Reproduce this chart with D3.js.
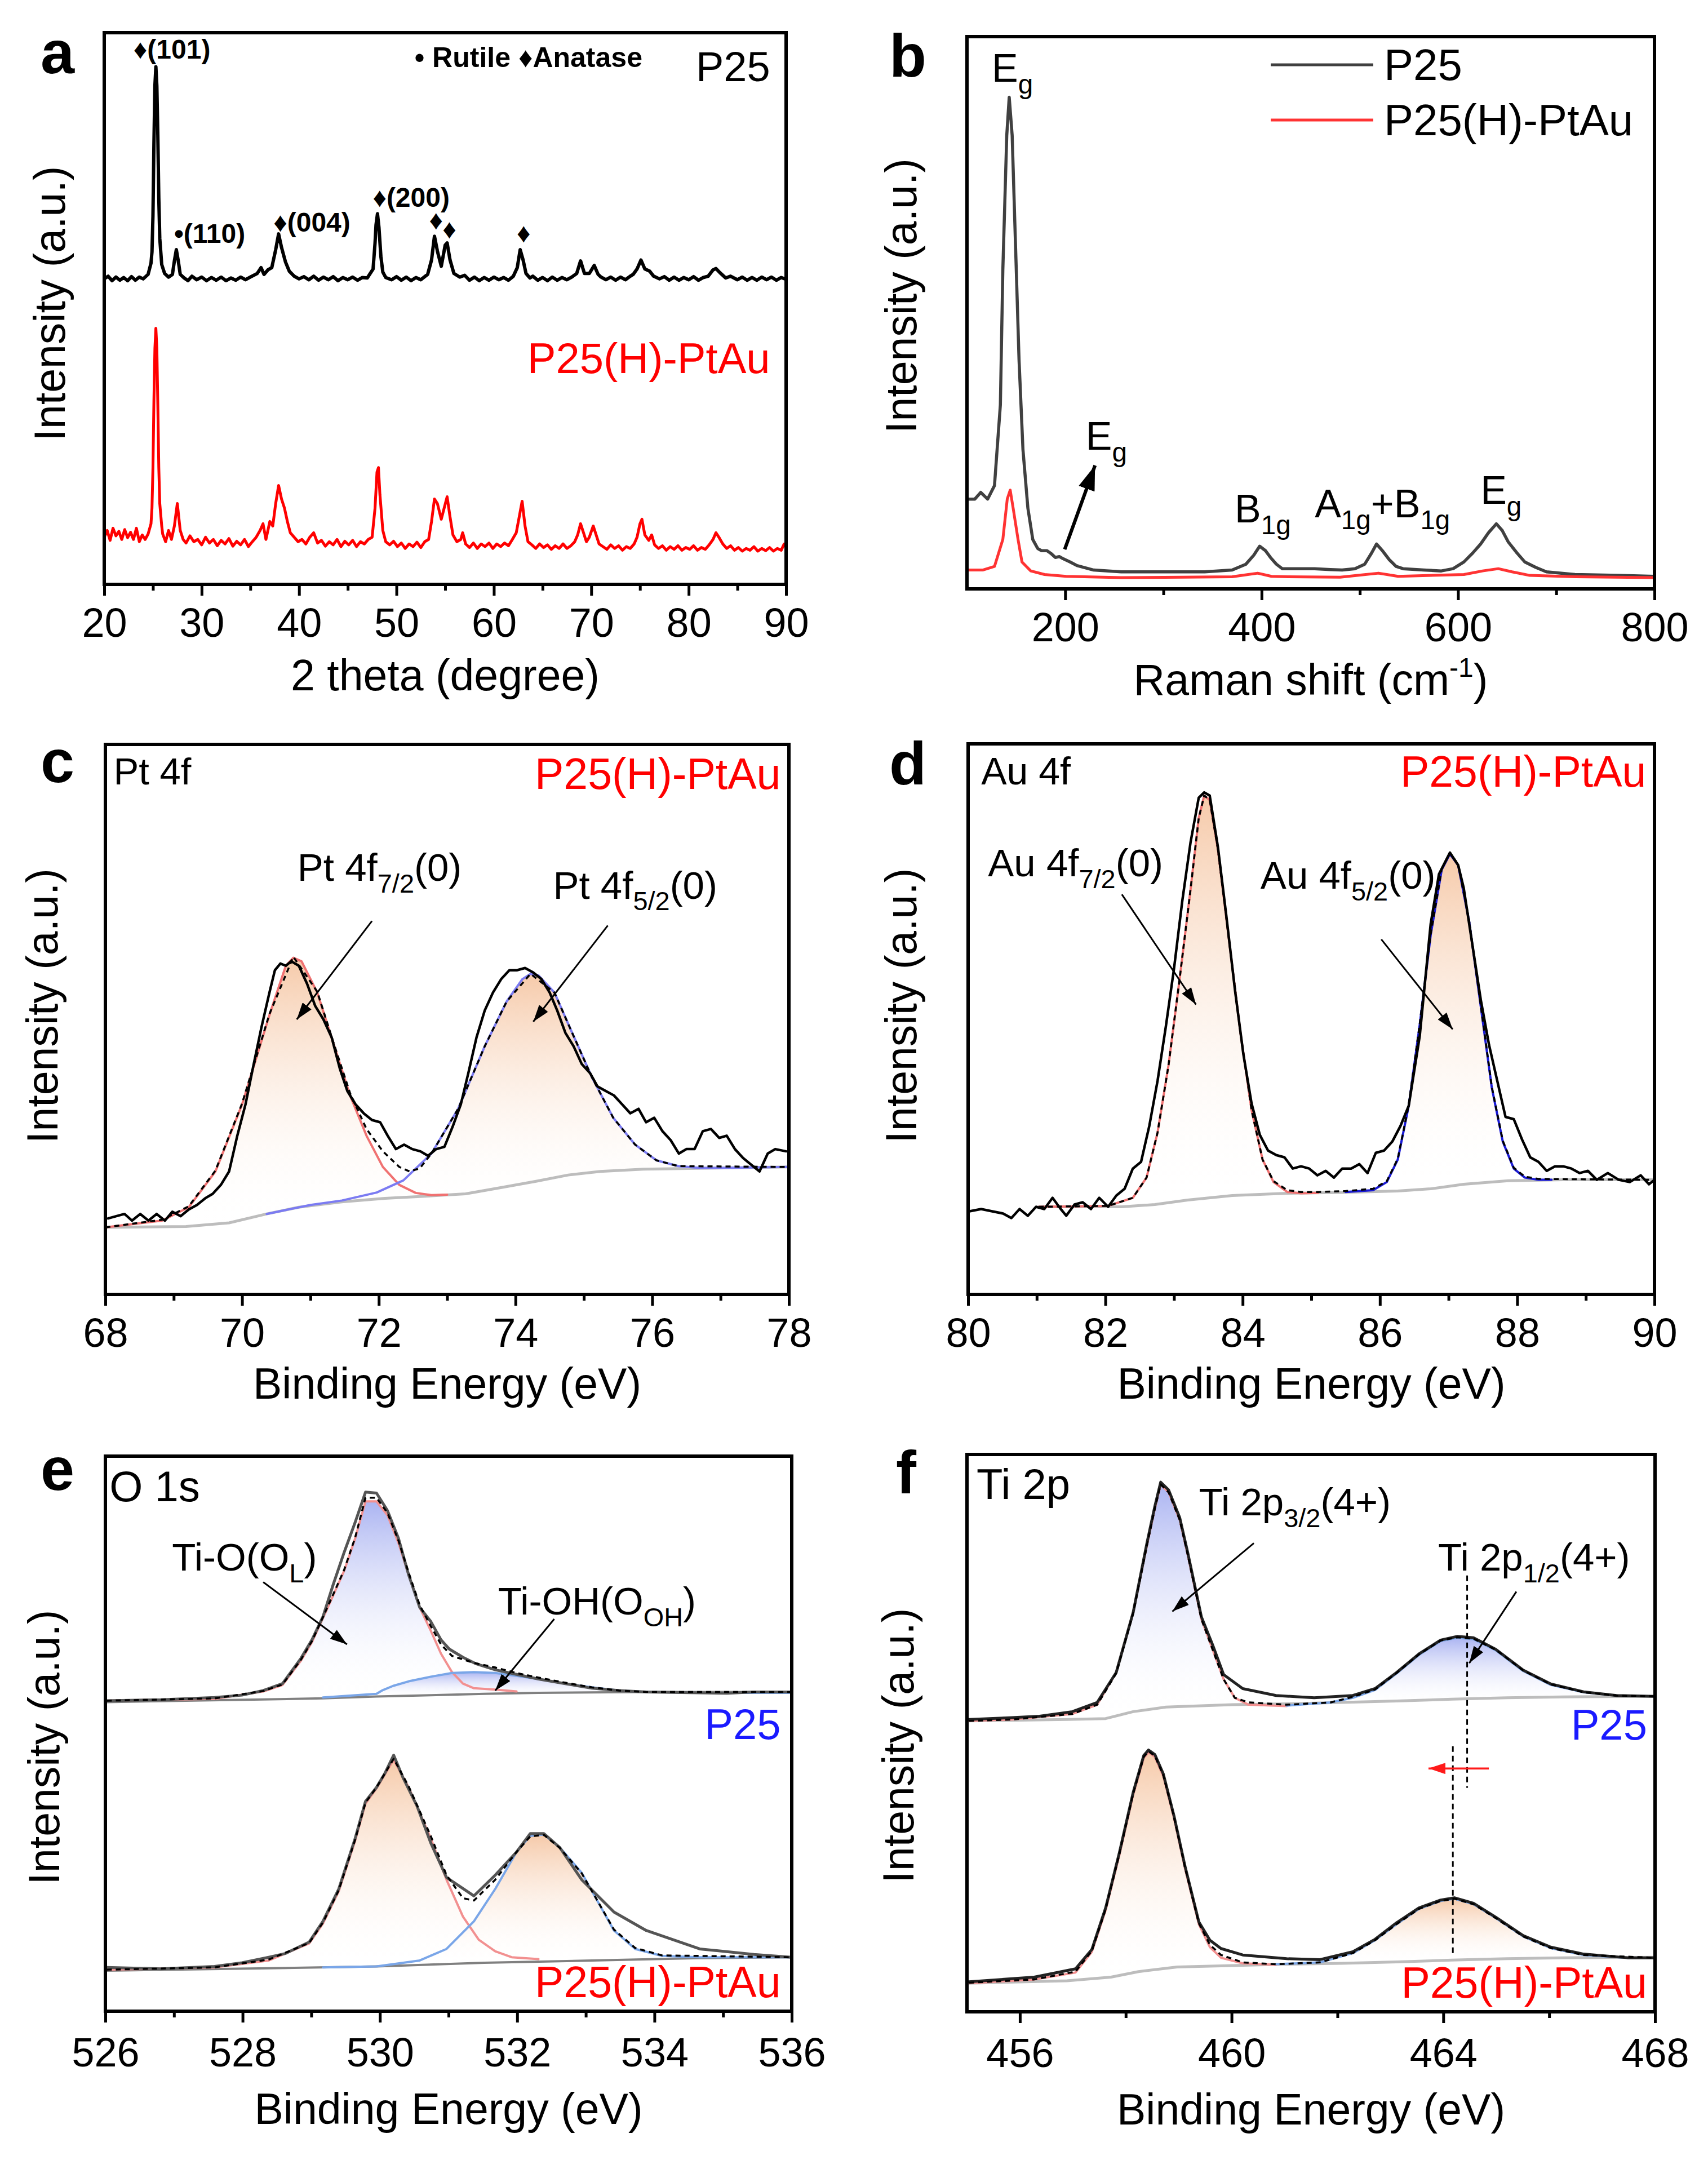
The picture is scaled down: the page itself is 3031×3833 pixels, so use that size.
<!DOCTYPE html>
<html>
<head>
<meta charset="utf-8">
<script src="https://cdn.jsdelivr.net/npm/d3@7"></script>
<style>
  body { margin:0; background:#fff; }
</style>
</head>
<body>
<script>
var FONT = "'Liberation Sans', Arial, Helvetica, sans-serif";

// ---------- data (intensities in arbitrary units) ----------

// a: XRD, [2theta, intensity]
var xrdP25 = [[20.0,680],[20.4,686],[20.8,676],[21.2,684],[21.6,677],[22.0,683],[22.4,676],[22.8,685],[23.2,677],[23.6,684],[24.0,680],[24.5,690],[24.8,715],[24.9,740],[25.0,820],[25.1,980],[25.2,1110],[25.3,1152],[25.4,1110],[25.5,1000],[25.6,860],[25.7,770],[25.9,712],[26.2,692],[26.6,684],[27.0,690],[27.2,720],[27.4,745],[27.6,720],[27.8,690],[28.2,682],[28.6,676],[29.0,686],[29.5,678],[30.0,684],[30.5,676],[31.0,683],[31.5,677],[32.0,684],[32.5,676],[33.0,682],[33.5,677],[34.0,684],[34.5,678],[35.0,684],[35.7,692],[36.1,705],[36.4,690],[36.8,700],[37.2,705],[37.6,745],[37.9,780],[38.2,750],[38.6,718],[39.0,697],[39.5,686],[40.0,680],[40.5,685],[41.0,678],[41.5,686],[42.0,677],[42.5,684],[43.0,678],[43.5,685],[44.0,676],[44.5,683],[45.0,678],[45.5,684],[46.0,677],[46.5,683],[47.0,682],[47.6,702],[47.8,760],[47.9,800],[48.05,825],[48.2,795],[48.4,730],[48.6,695],[48.9,683],[49.5,678],[50.0,685],[50.5,677],[51.0,684],[51.5,676],[52.0,683],[52.5,678],[53.2,690],[53.6,722],[53.9,775],[54.2,742],[54.6,708],[55.0,755],[55.2,760],[55.5,722],[55.9,692],[56.5,684],[57.0,688],[57.5,677],[58.0,684],[58.5,676],[59.0,683],[59.5,677],[60.0,684],[60.5,678],[61.0,683],[61.5,677],[62.0,686],[62.4,705],[62.7,745],[63.0,722],[63.3,692],[63.7,682],[64.0,686],[64.5,677],[65.0,683],[65.5,676],[66.0,684],[66.5,677],[67.0,683],[67.5,678],[68.0,684],[68.5,692],[68.9,720],[69.3,692],[69.8,692],[70.3,710],[70.7,690],[71.0,684],[71.5,678],[72.0,684],[72.5,677],[73.0,684],[73.5,678],[74.0,686],[74.3,690],[74.7,702],[75.1,722],[75.5,702],[76.0,697],[76.4,686],[77.0,680],[77.5,685],[78.0,677],[78.5,684],[79.0,677],[79.5,683],[80.0,678],[80.5,685],[81.0,677],[81.5,683],[82.0,686],[82.5,700],[82.8,703],[83.2,694],[83.8,682],[84.3,686],[85.0,678],[85.5,684],[86.0,677],[86.5,683],[87.0,677],[87.5,684],[88.0,678],[88.5,684],[89.0,677],[89.5,683],[90.0,679]];

var xrdPtAu = [[20.0,105],[20.3,120],[20.6,98],[20.9,125],[21.2,108],[21.5,118],[21.8,100],[22.1,122],[22.4,104],[22.7,116],[23.0,100],[23.3,125],[23.6,95],[23.9,110],[24.2,100],[24.5,112],[24.8,135],[24.9,170],[25.0,260],[25.1,410],[25.2,525],[25.3,570],[25.4,525],[25.5,400],[25.6,260],[25.7,180],[25.9,130],[26.0,112],[26.3,95],[26.6,120],[26.9,100],[27.2,130],[27.5,180],[27.8,120],[28.1,100],[28.4,92],[28.8,108],[29.2,95],[29.6,100],[30.0,88],[30.4,105],[30.8,92],[31.2,100],[31.6,86],[32.0,98],[32.4,90],[32.8,102],[33.2,85],[33.6,96],[34.0,88],[34.4,100],[34.8,84],[35.2,95],[35.6,105],[36.0,120],[36.3,135],[36.6,100],[37.0,140],[37.3,130],[37.6,180],[37.9,220],[38.2,190],[38.5,170],[38.8,140],[39.1,115],[39.5,105],[39.9,95],[40.3,100],[40.7,90],[41.1,105],[41.5,115],[41.9,92],[42.3,98],[42.7,85],[43.1,95],[43.5,88],[43.9,100],[44.3,84],[44.7,96],[45.1,88],[45.5,98],[45.9,84],[46.3,95],[46.7,90],[47.1,100],[47.5,105],[47.8,170],[48.0,250],[48.15,260],[48.3,200],[48.6,120],[48.9,95],[49.3,88],[49.7,96],[50.1,84],[50.5,92],[50.9,80],[51.3,90],[51.7,84],[52.1,94],[52.5,82],[52.9,95],[53.3,100],[53.6,140],[53.9,190],[54.2,180],[54.6,145],[54.9,170],[55.2,195],[55.5,150],[55.8,110],[56.2,95],[56.6,100],[56.8,115],[57.1,90],[57.5,82],[57.9,92],[58.3,80],[58.7,90],[59.1,84],[59.5,92],[59.9,80],[60.3,90],[60.7,84],[61.1,92],[61.5,86],[61.9,100],[62.3,115],[62.6,150],[62.9,185],[63.2,130],[63.5,95],[63.9,88],[64.3,80],[64.7,90],[65.1,82],[65.5,88],[65.9,78],[66.3,86],[66.7,80],[67.1,90],[67.5,80],[67.9,86],[68.3,95],[68.6,110],[68.9,135],[69.2,115],[69.5,95],[69.8,105],[70.2,130],[70.5,110],[70.8,90],[71.2,84],[71.6,78],[72.0,88],[72.4,80],[72.8,86],[73.2,76],[73.6,84],[74.0,80],[74.4,90],[74.7,105],[75.0,135],[75.2,145],[75.5,110],[75.9,98],[76.2,110],[76.5,88],[76.9,80],[77.3,86],[77.7,76],[78.1,84],[78.5,78],[78.9,86],[79.3,76],[79.7,82],[80.1,78],[80.5,86],[80.9,76],[81.3,82],[81.7,78],[82.1,88],[82.5,100],[82.8,115],[83.1,105],[83.5,90],[83.9,80],[84.3,86],[84.7,76],[85.1,82],[85.5,74],[85.9,80],[86.3,76],[86.7,84],[87.1,74],[87.5,80],[87.9,75],[88.3,82],[88.7,74],[89.1,80],[89.5,76],[89.8,90],[90.0,85]];

// b: Raman, [shift, intensity]
var ramanP25 = [[100,200],[108,200],[114,215],[121,200],[128,230],[134,410],[136.5,710],[140.5,1010],[143,1095],[146,1010],[149.5,760],[153,510],[157,310],[162,180],[167,110],[172,90],[176,85],[181.5,85],[186,78],[190,70],[194,72],[198,67],[205,60],[212,52],[229,42],[257,38],[285,38],[313,38],[342,38],[370,42],[384,55],[392,75],[398,95],[404,85],[409,70],[415,55],[421,45],[440,45],[454,45],[470,43],[482,42],[495,45],[505,55],[512,80],[517,100],[523,85],[530,65],[537,50],[544,45],[565,42],[583,40],[595,45],[606,60],[615,80],[623,100],[631,125],[639,145],[645,130],[651,105],[660,80],[668,60],[679,48],[690,38],[719,32],[763,30],[800,28]];
var ramanPtAu = [[100,42],[116,42],[128,50],[136.5,110],[141,200],[144,220],[147,180],[152,110],[156,60],[165,40],[179,32],[201,28],[257,25],[320,26],[370,27],[396,35],[410,28],[427,27],[480,26],[519,35],[539,28],[606,32],[625,40],[641,45],[655,38],[673,30],[720,27],[760,26],[800,25]];

// c: Pt 4f, [binding energy, intensity]
var pt4fRaw = [[68.04,170],[68.16,175],[68.28,180],[68.39,165],[68.51,180],[68.63,165],[68.75,180],[68.87,165],[68.98,185],[69.10,175],[69.22,190],[69.34,200],[69.46,215],[69.57,225],[69.69,245],[69.81,275],[69.93,355],[70.05,425],[70.17,515],[70.28,595],[70.40,675],[70.48,725],[70.56,740],[70.64,735],[70.72,745],[70.83,735],[70.95,695],[71.07,645],[71.19,615],[71.31,575],[71.43,505],[71.54,455],[71.66,425],[71.78,405],[71.90,390],[72.02,385],[72.13,355],[72.25,325],[72.37,335],[72.49,325],[72.61,320],[72.72,310],[72.84,325],[72.96,330],[73.08,375],[73.20,425],[73.31,495],[73.43,575],[73.55,635],[73.67,675],[73.79,705],[73.91,725],[74.02,725],[74.14,730],[74.26,720],[74.38,705],[74.50,675],[74.61,635],[74.73,585],[74.85,555],[74.97,515],[75.09,495],[75.20,465],[75.32,455],[75.44,445],[75.56,425],[75.68,405],[75.80,415],[75.91,385],[76.03,395],[76.15,365],[76.27,345],[76.39,315],[76.50,325],[76.62,325],[76.74,365],[76.86,370],[76.98,350],[77.09,355],[77.21,325],[77.33,305],[77.45,290],[77.57,275],[77.69,315],[77.80,325],[77.96,320]];
var pt4f72 = [[68.0,150],[68.83,165],[69.22,195],[69.61,275],[70.0,425],[70.4,625],[70.64,735],[70.75,753],[70.87,745],[71.1,675],[71.35,555],[71.58,445],[71.82,355],[72.06,285],[72.3,245],[72.54,227],[72.77,222],[73.0,223]];
var pt4f52 = [[70.36,180],[71.0,200],[71.46,210],[71.97,228],[72.36,255],[72.77,315],[73.16,415],[73.55,555],[73.87,655],[74.1,705],[74.22,717],[74.34,713],[74.57,675],[74.8,595],[75.12,485],[75.43,395],[75.75,335],[76.06,300],[76.38,287],[76.69,283],[77.0,283],[78.0,285]];
var pt4fBg = [[68.0,150],[69.18,152],[69.81,160],[70.36,180],[70.83,195],[71.46,207],[72.09,215],[72.72,220],[73.27,225],[73.83,240],[74.3,253],[74.77,267],[75.24,275],[75.87,280],[76.66,282],[78.0,285]];
var pt4fEnv = [[68.0,150],[68.83,167],[69.22,197],[69.61,277],[70.0,427],[70.4,627],[70.75,755],[71.1,677],[71.35,557],[71.58,450],[71.82,370],[72.06,320],[72.3,285],[72.45,275],[72.6,282],[72.77,315],[73.16,415],[73.55,555],[73.87,655],[74.22,717],[74.57,675],[74.8,595],[75.12,485],[75.43,395],[75.75,335],[76.06,300],[76.38,287],[78.0,285]];

// d: Au 4f
var au4fRaw = [[80.02,185],[80.19,190],[80.35,185],[80.51,180],[80.63,170],[80.75,190],[80.87,175],[80.99,195],[81.11,190],[81.23,215],[81.35,190],[81.43,175],[81.55,200],[81.67,205],[81.79,190],[81.91,215],[82.04,195],[82.16,220],[82.28,235],[82.40,280],[82.52,295],[82.64,375],[82.76,475],[82.88,595],[83.00,725],[83.12,875],[83.24,1005],[83.36,1105],[83.44,1117],[83.52,1110],[83.64,995],[83.76,845],[83.89,675],[84.01,535],[84.13,425],[84.25,355],[84.37,320],[84.49,310],[84.61,305],[84.73,280],[84.85,285],[84.97,280],[85.09,265],[85.21,275],[85.33,260],[85.45,280],[85.58,280],[85.70,290],[85.82,270],[85.94,315],[86.06,320],[86.18,340],[86.30,375],[86.42,420],[86.58,575],[86.74,825],[86.86,935],[87.02,983],[87.14,955],[87.22,905],[87.35,775],[87.47,655],[87.59,555],[87.71,475],[87.83,395],[87.95,390],[88.07,345],[88.19,305],[88.31,295],[88.43,275],[88.55,285],[88.67,285],[88.79,280],[88.91,270],[89.03,275],[89.16,255],[89.32,270],[89.48,255],[89.64,250],[89.80,265],[89.92,245],[90.0,255]];
var au4f72 = [[81.03,195],[82.04,197],[82.4,215],[82.6,260],[82.76,360],[82.92,510],[83.08,700],[83.24,900],[83.36,1060],[83.44,1110],[83.52,1100],[83.64,990],[83.8,790],[83.97,580],[84.13,410],[84.29,300],[84.45,250],[84.65,228],[84.85,225],[85.1,226]];
var au4f52 = [[85.5,228],[85.9,232],[86.1,250],[86.26,300],[86.42,420],[86.58,600],[86.74,800],[86.9,945],[87.02,980],[87.14,955],[87.3,830],[87.47,640],[87.63,460],[87.79,340],[87.95,280],[88.11,260],[88.31,255],[88.5,255]];
var au4fBg = [[81.03,195],[82.24,195],[82.72,200],[83.2,210],[83.85,220],[84.65,225],[85.45,227],[86.26,230],[86.74,235],[87.22,245],[87.87,253],[88.67,255],[90.0,255]];
var au4fEnv = [[81.03,195],[82.04,197],[82.4,215],[82.6,260],[82.76,360],[82.92,510],[83.08,700],[83.24,900],[83.36,1060],[83.44,1110],[83.52,1100],[83.64,990],[83.8,790],[83.97,580],[84.13,410],[84.29,300],[84.45,252],[84.65,232],[84.85,228],[85.1,228],[85.5,230],[85.9,235],[86.1,252],[86.26,302],[86.42,422],[86.58,602],[86.74,802],[86.9,947],[87.02,982],[87.14,957],[87.3,832],[87.47,642],[87.63,462],[87.79,342],[87.95,282],[88.11,262],[88.31,257],[90.0,255]];

// e: O 1s (upper P25, lower P25(H)-PtAu)
var o1sP25Raw = [[526.02,673],[526.81,675],[527.59,680],[527.99,685],[528.30,695],[528.58,710],[528.85,765],[529.01,805],[529.17,855],[529.32,925],[529.48,995],[529.64,1060],[529.79,1125],[529.95,1123],[530.11,1085],[530.27,1025],[530.42,945],[530.58,875],[530.74,845],[530.89,805],[531.01,785],[531.21,767],[531.40,753],[531.68,740],[531.99,730],[532.31,720],[532.70,710],[533.09,700],[533.49,695],[533.88,692],[534.66,690],[535.06,689],[535.45,692],[536.0,692]];
var o1sP25OL = [[526.02,673],[527.59,677],[528.30,693],[528.58,707],[528.85,760],[529.01,800],[529.24,875],[529.48,955],[529.64,1025],[529.79,1105],[529.95,1105],[530.11,1075],[530.27,1015],[530.42,945],[530.58,875],[530.74,825],[530.89,775],[531.05,735],[531.21,710],[531.37,700],[531.68,697],[531.99,693]];
var o1sP25OH = [[529.17,680],[529.95,688],[530.03,695],[530.19,705],[530.42,715],[530.74,725],[531.05,733],[531.37,735],[531.68,733],[531.99,727],[532.31,720],[532.70,710],[533.09,702],[533.49,695],[533.88,692],[534.66,690],[536.0,690]];
var o1sP25Bg = [[526.02,670],[529.17,678],[529.95,682],[530.74,685],[531.52,688],[532.31,690],[533.88,692],[536.0,692]];
var o1sP25Env = [[526.02,673],[527.59,678],[528.30,694],[528.58,708],[528.85,762],[529.01,802],[529.24,877],[529.48,957],[529.64,1027],[529.79,1113],[529.95,1113],[530.11,1080],[530.27,1020],[530.42,950],[530.58,880],[530.74,835],[530.89,795],[531.05,770],[531.37,755],[531.68,745],[531.99,733],[532.31,723],[532.70,712],[533.09,702],[533.49,695],[533.88,692],[536.0,692]];
var o1sPtAuRaw = [[526.02,95],[526.81,92],[527.59,97],[527.99,105],[528.38,117],[528.62,125],[528.97,150],[529.17,195],[529.40,265],[529.64,375],[529.79,455],[529.95,485],[530.07,515],[530.20,555],[530.34,505],[530.54,445],[530.74,365],[530.97,290],[531.37,250],[531.68,295],[531.99,345],[532.19,385],[532.39,385],[532.62,355],[532.94,285],[533.41,215],[533.88,175],[534.66,135],[535.45,123],[536.0,117]];
var o1sPtAuOL = [[526.02,90],[527.59,95],[528.38,110],[528.97,147],[529.17,190],[529.40,260],[529.64,370],[529.79,450],[529.95,483],[530.20,545],[530.42,485],[530.74,375],[530.97,285],[531.21,205],[531.44,155],[531.68,130],[531.92,117],[532.31,113]];
var o1sPtAuOH = [[529.17,95],[529.95,97],[530.58,110],[530.97,135],[531.37,195],[531.68,265],[531.99,345],[532.19,380],[532.39,383],[532.62,355],[532.94,300],[533.41,175],[533.72,135],[534.11,120],[534.66,117],[536.0,117]];
var o1sPtAuBg = [[526.02,88],[528.38,93],[529.95,97],[531.52,105],[533.09,110],[534.66,115],[536.0,117]];
var o1sPtAuEnv = [[526.02,90],[527.59,95],[528.38,112],[528.97,148],[529.17,192],[529.40,262],[529.64,372],[529.79,452],[529.95,485],[530.20,547],[530.42,487],[530.74,380],[530.97,295],[531.21,245],[531.37,240],[531.68,285],[531.99,345],[532.19,379],[532.39,382],[532.62,354],[532.94,299],[533.41,177],[533.72,137],[534.11,121],[536.0,117]];

// f: Ti 2p
var ti2pP25Raw = [[455.04,633],[455.85,637],[456.37,640],[456.99,650],[457.46,670],[457.82,735],[458.14,865],[458.40,1015],[458.55,1095],[458.66,1147],[458.81,1130],[459.02,1070],[459.17,995],[459.43,855],[459.64,795],[459.85,730],[460.21,700],[460.84,685],[461.56,680],[462.29,685],[462.71,700],[463.12,735],[463.54,775],[463.95,805],[464.26,813],[464.57,810],[464.99,785],[465.51,740],[466.03,710],[466.65,693],[467.27,685],[468.0,683]];
var ti2pP25p32 = [[455.04,630],[455.85,633],[456.99,645],[457.46,665],[457.82,735],[458.14,865],[458.40,1010],[458.55,1090],[458.66,1142],[458.81,1125],[459.02,1065],[459.17,990],[459.43,850],[459.64,785],[459.85,720],[460.06,680],[460.32,665],[461.04,662]];
var ti2pP25p12 = [[461.04,663],[461.87,670],[462.29,680],[462.71,697],[463.12,733],[463.54,773],[463.95,803],[464.26,810],[464.57,807],[464.99,783],[465.51,738],[466.03,708],[466.65,692],[467.27,685],[468.0,683]];
var ti2pP25Bg = [[455.04,630],[456.89,633],[457.62,635],[458.14,650],[458.76,660],[460.01,665],[461.04,667],[462.08,670],[463.12,673],[464.16,677],[465.20,680],[466.24,682],[468.0,683]];
var ti2pP25Env = [[455.04,630],[455.85,633],[456.99,645],[457.46,665],[457.82,733],[458.14,863],[458.40,1010],[458.55,1090],[458.66,1142],[458.81,1125],[459.02,1065],[459.17,990],[459.43,850],[459.64,785],[459.85,720],[460.06,680],[460.32,670],[461.04,665],[461.87,670],[462.29,682],[462.71,698],[463.12,734],[463.54,774],[463.95,804],[464.26,811],[464.57,808],[464.99,784],[465.51,739],[466.03,709],[466.65,692],[467.27,685],[468.0,683]];
var ti2pPtAuRaw = [[455.04,65],[456.27,75],[457.05,93],[457.36,135],[457.62,225],[457.88,345],[458.14,475],[458.34,555],[458.43,567],[458.55,557],[458.71,515],[458.91,425],[459.12,315],[459.38,195],[459.59,155],[459.80,137],[460.21,123],[461.04,115],[461.67,113],[462.29,130],[462.71,157],[463.12,193],[463.54,225],[463.95,242],[464.21,247],[464.57,235],[464.99,205],[465.51,165],[466.03,140],[466.65,125],[467.48,117],[468.0,117]];
var ti2pPtAup32 = [[455.04,62],[456.27,70],[457.05,85],[457.36,130],[457.62,220],[457.88,340],[458.14,470],[458.34,550],[458.43,562],[458.55,552],[458.71,510],[458.91,420],[459.12,310],[459.38,190],[459.59,140],[459.80,117],[460.21,105],[460.84,102]];
var ti2pPtAup12 = [[460.84,103],[461.67,107],[462.29,127],[462.71,155],[463.12,190],[463.54,223],[463.95,240],[464.21,245],[464.57,233],[464.99,203],[465.51,163],[466.03,138],[466.65,123],[467.48,117],[468.0,117]];
var ti2pPtAuBg = [[455.04,62],[456.89,67],[457.72,75],[458.24,87],[458.97,97],[460.01,100],[461.04,103],[462.08,105],[463.12,108],[464.16,112],[465.20,115],[466.24,117],[468.0,118]];
var ti2pPtAuEnv = [[455.04,63],[456.27,70],[457.05,87],[457.36,132],[457.62,222],[457.88,342],[458.14,472],[458.34,552],[458.43,564],[458.55,554],[458.71,512],[458.91,422],[459.12,312],[459.38,192],[459.59,145],[459.80,123],[460.21,107],[460.84,103],[461.67,107],[462.29,127],[462.71,155],[463.12,190],[463.54,223],[463.95,240],[464.21,245],[464.57,233],[464.99,203],[465.51,163],[466.03,138],[466.65,123],[468.0,117]];

// tick values
var ticksA = [20,30,40,50,60,70,80,90], minorA = [25,35,45,55,65,75,85];
var ticksB = [200,400,600,800], minorB = [300,500,700];
var ticksC = [68,70,72,74,76,78], minorC = [69,71,73,75,77];
var ticksD = [80,82,84,86,88,90], minorD = [81,83,85,87,89];
var ticksE = [526,528,530,532,534,536], minorE = [527,529,531,533,535];
var ticksF = [456,460,464,468], minorF = [458,462,466];

// ---------- layout ----------
var layout = {
  a:{x:185, y:58,   w:1210, h:979, xd:[20,90],   yd:[0,1228], major:ticksA, minor:minorA, letter:'a', lx:72,   ly:130,  ytx:70, yty:-9,  pad:22, tOff:188},
  b:{x:1716,y:65,   w:1220, h:980, xd:[100,800], yd:[0,1230], major:ticksB, minor:minorB, letter:'b', lx:1578, ly:136,  ytx:90, yty:-30, pad:22, tOff:188},
  c:{x:187, y:1321, w:1213, h:976, xd:[68,78],   yd:[0,1230], major:ticksC, minor:minorC, letter:'c', lx:72,   ly:1388, ytx:85, yty:-24, pad:22, tOff:185},
  d:{x:1718,y:1320, w:1218, h:977, xd:[80,90],   yd:[0,1225], major:ticksD, minor:minorD, letter:'d', lx:1578, ly:1392, ytx:92, yty:-24, pad:22, tOff:185},
  e:{x:187, y:2584, w:1218, h:985, xd:[526,536], yd:[0,1203], major:ticksE, minor:minorE, letter:'e', lx:72,   ly:2644, ytx:82, yty:24,  pad:27, tOff:200},
  f:{x:1716,y:2581, w:1221, h:989, xd:[455,468], yd:[0,1207], major:ticksF, minor:minorF, letter:'f', lx:1590, ly:2650, ytx:95, yty:22,  pad:27, tOff:200}
};

var svg = d3.select('body').append('svg')
    .attr('width',3031).attr('height',3833)
    .style('font-family',FONT);
svg.append('rect').attr('width',3031).attr('height',3833).attr('fill','#fff');
var defs = svg.append('defs');

// gradients for the fitted peak areas
function grad(id, c) {
  var lg = defs.append('linearGradient').attr('id',id).attr('x1',0).attr('y1',0).attr('x2',0).attr('y2',1);
  lg.append('stop').attr('offset','0%').attr('stop-color',c).attr('stop-opacity',0.9);
  lg.append('stop').attr('offset','100%').attr('stop-color','#ffffff').attr('stop-opacity',0);
}
grad('peach','#f5c4a0');
grad('lilac','#a2acf0');

function marker(id, color, mw, mh) {
  defs.append('marker').attr('id',id).attr('viewBox','0 0 10 10')
    .attr('refX',10).attr('refY',5).attr('markerWidth',mw).attr('markerHeight',mh)
    .attr('markerUnits','userSpaceOnUse').attr('orient','auto').attr('preserveAspectRatio','none')
    .append('path').attr('d','M0,0 L10,5 L0,10 z').attr('fill',color);
}
marker('arrK','#000',30,20);
marker('arrKbig','#000',44,30);
marker('arrR','#ff1a1a',30,20);

function makePanel(key) {
  var c = layout[key];
  var g = svg.append('g').attr('transform','translate('+c.x+','+c.y+')');
  var x = d3.scaleLinear().domain(c.xd).range([0,c.w]);
  var y = d3.scaleLinear().domain(c.yd).range([c.h,0]);
  defs.append('clipPath').attr('id','clip-'+key).append('rect').attr('width',c.w).attr('height',c.h);
  var plot = g.append('g').attr('clip-path','url(#clip-'+key+')');
  return {key:key, c:c, g:g, plot:plot, x:x, y:y};
}

function line(P, data, color, w, dash) {
  var ln = d3.line().x(function(d){ return P.x(d[0]); }).y(function(d){ return P.y(d[1]); });
  var p = P.plot.append('path').attr('d',ln(data)).attr('fill','none')
    .attr('stroke',color).attr('stroke-width',w)
    .attr('stroke-linejoin','round').attr('stroke-linecap','round');
  if (dash) p.attr('stroke-dasharray',dash).attr('stroke-linecap','butt');
  return p;
}

// area between a fitted component and the background
function band(P, comp, bg, fill) {
  var lo = comp[0][0], hi = comp[comp.length-1][0];
  var back = bg.filter(function(d){ return d[0] > lo && d[0] < hi; }).reverse();
  var pts = comp.concat(back);
  var ln = d3.line().x(function(d){ return P.x(d[0]); }).y(function(d){ return P.y(d[1]); });
  P.plot.append('path').attr('d',ln(pts)+'Z').attr('fill','url(#'+fill+')').attr('stroke','none');
}

function rich(P, xv, yv, parts, size, opts) {
  opts = opts || {};
  var t = P.g.append('text').attr('x',P.x(xv)).attr('y',P.y(yv))
    .attr('font-size',size).attr('fill',opts.fill || '#000')
    .attr('text-anchor',opts.anchor || 'start');
  if (opts.bold) t.attr('font-weight','bold');
  if (parts.length === 1) { t.text(parts[0].t); return t; }
  var shift = 0;
  parts.forEach(function(p){
    var s = 0, fs = size;
    if (p.sub) { s = size*0.3; fs = size*0.68; }
    if (p.sup) { s = -size*0.42; fs = size*0.62; }
    t.append('tspan').attr('dy',s - shift).attr('font-size',fs).text(p.t);
    shift = s;
  });
  return t;
}

function arrow(P, x1, y1, x2, y2, mk, color, w) {
  P.g.append('line').attr('x1',P.x(x1)).attr('y1',P.y(y1)).attr('x2',P.x(x2)).attr('y2',P.y(y2))
    .attr('stroke',color).attr('stroke-width',w).attr('marker-end','url(#'+mk+')');
}

function finish(P, title) {
  var c = P.c;
  P.g.append('rect').attr('width',c.w).attr('height',c.h)
    .attr('fill','none').attr('stroke','#000').attr('stroke-width',6);

  var ax = d3.axisBottom(P.x).tickValues(c.major).tickSize(20).tickPadding(c.pad).tickFormat(d3.format('d'));
  var ga = P.g.append('g').attr('transform','translate(0,'+c.h+')').call(ax);
  ga.attr('font-size',72).attr('font-family',FONT);
  ga.select('.domain').remove();
  ga.selectAll('line').attr('stroke','#000').attr('stroke-width',5);
  ga.selectAll('text').attr('fill','#000');

  var mi = d3.axisBottom(P.x).tickValues(c.minor).tickSize(11).tickFormat('');
  var gm = P.g.append('g').attr('transform','translate(0,'+c.h+')').call(mi);
  gm.select('.domain').remove();
  gm.selectAll('line').attr('stroke','#000').attr('stroke-width',5);

  var tt = P.g.append('text').attr('x',c.w/2).attr('y',c.h + c.tOff)
    .attr('text-anchor','middle').attr('font-size',77).attr('fill','#000');
  title.forEach(function(p){
    var ts = tt.append('tspan').text(p.t);
    if (p.sup) ts.attr('font-size',48).attr('dy',-32);
    else if (p.after) ts.attr('dy',32);
  });

  P.g.append('text').attr('transform','translate('+(-c.ytx)+','+(c.h/2 + c.yty)+') rotate(-90)')
    .attr('text-anchor','middle').attr('font-size',77).attr('fill','#000').text('Intensity (a.u.)');

  svg.append('text').attr('x',c.lx).attr('y',c.ly).attr('font-size',108)
    .attr('font-weight','bold').attr('fill','#000').text(c.letter);
}

var RED = '#ff0000', BLUE = '#1a1aff';

// ---------- a: XRD ----------
var A = makePanel('a');
line(A, xrdP25, '#000', 6);
line(A, xrdPtAu, '#ff0000', 5);
rich(A, 23.0, 1170, [{t:'\u2666(101)'}], 48, {bold:true});
rich(A, 27.17, 760, [{t:'\u2022(110)'}], 48, {bold:true});
rich(A, 37.37, 785, [{t:'\u2666(004)'}], 48, {bold:true});
rich(A, 47.56, 840, [{t:'\u2666(200)'}], 48, {bold:true});
rich(A, 53.35, 790, [{t:'\u2666'}], 48, {bold:true});
rich(A, 54.73, 770, [{t:'\u2666'}], 48, {bold:true});
rich(A, 62.34, 762, [{t:'\u2666'}], 48, {bold:true});
rich(A, 51.86, 1152, [{t:'\u2022 Rutile \u2666Anatase'}], 50, {bold:true});
rich(A, 88.36, 1120, [{t:'P25'}], 74, {anchor:'end'});
rich(A, 88.36, 470, [{t:'P25(H)-PtAu'}], 76, {anchor:'end', fill:RED});
finish(A, [{t:'2 theta (degree)'}]);

// ---------- b: Raman ----------
var B = makePanel('b');
line(B, ramanP25, '#404040', 5.5);
line(B, ramanPtAu, '#ff3333', 5);
rich(B, 125.3, 1130, [{t:'E'},{t:'g',sub:true}], 70);
rich(B, 220.9, 310, [{t:'E'},{t:'g',sub:true}], 70);
arrow(B, 199.5, 88, 230.4, 275, 'arrKbig', '#000', 6);
rich(B, 372.6, 148, [{t:'B'},{t:'1g',sub:true}], 70);
rich(B, 454.1, 160, [{t:'A'},{t:'1g',sub:true},{t:'+B'},{t:'1g',sub:true}], 70);
rich(B, 622.8, 190, [{t:'E'},{t:'g',sub:true}], 70);
var legB = [{name:'P25', color:'#404040'}, {name:'P25(H)-PtAu', color:'#ff3333'}];
legB.forEach(function(d,i){
  var yy = 50 + i*98;
  B.g.append('line').attr('x1',539).attr('x2',721).attr('y1',yy).attr('y2',yy)
    .attr('stroke',d.color).attr('stroke-width',5);
  B.g.append('text').attr('x',740).attr('y',yy+27).attr('font-size',78).attr('fill','#000').text(d.name);
});
finish(B, [{t:'Raman shift (cm'},{t:'-1',sup:true},{t:')',after:true}]);

// ---------- c: Pt 4f ----------
var C = makePanel('c');
band(C, pt4f72, pt4fBg, 'peach');
band(C, pt4f52, pt4fBg, 'peach');
line(C, pt4fBg, '#bdbdbd', 5);
line(C, pt4f72, '#f07272', 4);
line(C, pt4f52, '#7b7bf2', 4);
line(C, pt4fRaw, '#000', 4.5);
line(C, pt4fEnv, '#000', 3.5, '9,7');
rich(C, 68.12, 1140, [{t:'Pt 4f'}], 67);
rich(C, 77.88, 1130, [{t:'P25(H)-PtAu'}], 77, {anchor:'end', fill:RED});
rich(C, 70.81, 925, [{t:'Pt 4f'},{t:'7/2',sub:true},{t:'(0)'}], 69);
arrow(C, 71.9, 835, 70.8, 615, 'arrK', '#000', 3);
rich(C, 74.55, 885, [{t:'Pt 4f'},{t:'5/2',sub:true},{t:'(0)'}], 69);
arrow(C, 75.35, 825, 74.26, 610, 'arrK', '#000', 3);
finish(C, [{t:'Binding Energy (eV)'}]);

// ---------- d: Au 4f ----------
var D = makePanel('d');
band(D, au4f72, au4fBg, 'peach');
band(D, au4f52, au4fBg, 'peach');
line(D, au4fBg, '#bdbdbd', 5);
line(D, au4f72, '#f07272', 4);
line(D, au4f52, '#1a1ad6', 4);
line(D, au4fRaw, '#000', 4.5);
line(D, au4fEnv, '#000', 3.5, '9,7');
rich(D, 80.19, 1135, [{t:'Au 4f'}], 68);
rich(D, 89.88, 1130, [{t:'P25(H)-PtAu'}], 77, {anchor:'end', fill:RED});
rich(D, 80.29, 930, [{t:'Au 4f'},{t:'7/2',sub:true},{t:'(0)'}], 69);
arrow(D, 82.24, 890, 83.32, 645, 'arrK', '#000', 3);
rich(D, 84.26, 903, [{t:'Au 4f'},{t:'5/2',sub:true},{t:'(0)'}], 69);
arrow(D, 86.02, 790, 87.06, 590, 'arrK', '#000', 3);
finish(D, [{t:'Binding Energy (eV)'}]);

// ---------- e: O 1s ----------
var E = makePanel('e');
band(E, o1sP25OL, o1sP25Bg, 'lilac');
band(E, o1sP25OH, o1sP25Bg, 'lilac');
band(E, o1sPtAuOL, o1sPtAuBg, 'peach');
band(E, o1sPtAuOH, o1sPtAuBg, 'peach');
[[o1sP25Bg,o1sP25OL,o1sP25OH,o1sP25Raw,o1sP25Env],[o1sPtAuBg,o1sPtAuOL,o1sPtAuOH,o1sPtAuRaw,o1sPtAuEnv]].forEach(function(s){
  line(E, s[0], '#808080', 4);
  line(E, s[1], '#f29090', 4);
  line(E, s[2], '#7aa6e8', 4);
  line(E, s[3], '#555555', 5);
  line(E, s[4], '#000', 3.5, '9,7');
});
rich(E, 526.06, 1105, [{t:'O 1s'}], 76);
rich(E, 535.84, 590, [{t:'P25'}], 76, {anchor:'end', fill:BLUE});
rich(E, 535.84, 30, [{t:'P25(H)-PtAu'}], 77, {anchor:'end', fill:RED});
rich(E, 526.97, 955, [{t:'Ti-O(O'},{t:'L',sub:true},{t:')'}], 69);
arrow(E, 528.3, 930, 529.52, 795, 'arrK', '#000', 3);
rich(E, 531.72, 860, [{t:'Ti-OH(O'},{t:'OH',sub:true},{t:')'}], 69);
arrow(E, 532.54, 850, 531.68, 695, 'arrK', '#000', 3);
finish(E, [{t:'Binding Energy (eV)'}]);

// ---------- f: Ti 2p ----------
var F = makePanel('f');
band(F, ti2pP25p32, ti2pP25Bg, 'lilac');
band(F, ti2pP25p12, ti2pP25Bg, 'lilac');
band(F, ti2pPtAup32, ti2pPtAuBg, 'peach');
band(F, ti2pPtAup12, ti2pPtAuBg, 'peach');
[[ti2pP25Bg,ti2pP25p32,ti2pP25p12,ti2pP25Raw,ti2pP25Env],[ti2pPtAuBg,ti2pPtAup32,ti2pPtAup12,ti2pPtAuRaw,ti2pPtAuEnv]].forEach(function(s){
  line(F, s[0], '#bdbdbd', 5);
  line(F, s[1], '#f29090', 4);
  line(F, s[2], '#7aa6e8', 4);
  line(F, s[3], '#222222', 5);
  line(F, s[4], '#000', 3.5, '9,7');
});
line(F, [[464.45,945],[464.45,485]], '#000', 3, '10,7');
line(F, [[464.18,575],[464.18,125]], '#000', 3, '10,7');
arrow(F, 464.86, 527, 463.72, 527, 'arrR', '#ff1a1a', 3.5);
rich(F, 455.18, 1110, [{t:'Ti 2p'}], 76);
rich(F, 459.38, 1075, [{t:'Ti 2p'},{t:'3/2',sub:true},{t:'(4+)'}], 69);
arrow(F, 460.42, 1015, 458.88, 867, 'arrK', '#000', 3);
rich(F, 463.9, 955, [{t:'Ti 2p'},{t:'1/2',sub:true},{t:'(4+)'}], 69);
arrow(F, 465.38, 910, 464.49, 755, 'arrK', '#000', 3);
rich(F, 467.85, 590, [{t:'P25'}], 76, {anchor:'end', fill:BLUE});
rich(F, 467.85, 30, [{t:'P25(H)-PtAu'}], 77, {anchor:'end', fill:RED});
finish(F, [{t:'Binding Energy (eV)'}]);
</script>
</body>
</html>
